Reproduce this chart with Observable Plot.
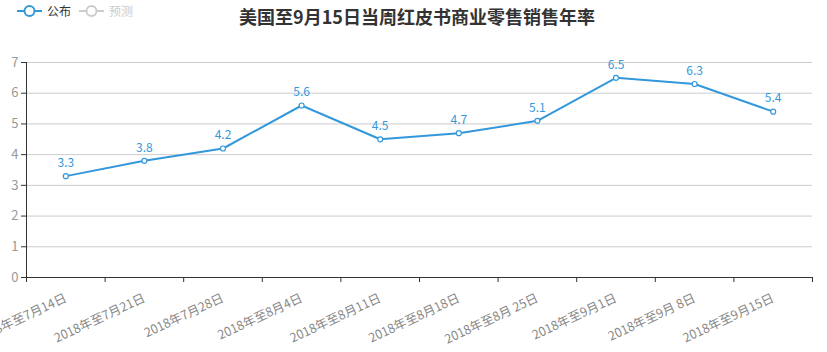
<!DOCTYPE html>
<html>
<head>
<meta charset="utf-8">
<script src="https://cdn.jsdelivr.net/npm/d3@7"></script>
<script src="https://cdn.jsdelivr.net/npm/@observablehq/plot@0.6"></script>
<style>
  body { margin: 0; background: #fff; font-family: "Noto Sans CJK SC", "Noto Sans", sans-serif; }
  #wrap { position: relative; width: 827px; height: 352px; overflow: hidden; }
  #title { position: absolute; top: 3px; left: 0; width: 834px; text-align: center; font-size: 18px; font-weight: bold; color: #333; }
  #legend { position: absolute; top: 2px; left: 17px; font-size: 12px; display: flex; align-items: center; }
  #legend .item { display: flex; align-items: center; margin-right: 8px; }
  #legend svg { margin-right: 5px; }
</style>
</head>
<body>
<div id="wrap">
  <div id="chart"></div>
  <div id="title"></div>
  <div id="legend"></div>
</div>
<script>
const titleText = "美国至9月15日当周红皮书商业零售销售年率";
const categories = ["2018年至7月14日","2018年至7月21日","2018年7月28日","2018年至8月4日","2018年至8月11日","2018年至8月18日","2018年至8月 25日","2018年至9月1日","2018年至9月 8日","2018年至9月15日"];
const values = [3.3, 3.8, 4.2, 5.6, 4.5, 4.7, 5.1, 6.5, 6.3, 5.4];
const yTicks = [0, 1, 2, 3, 4, 5, 6, 7];
const legendNames = ["公布", "预测"];
const legendColors = ["#3398DB", "#cccccc"];
const lineColor = "#3398DB";

const data = categories.map((c, i) => ({ pos: i + 0.5, cat: c, value: values[i] }));
const boundaries = d3.range(categories.length + 1);

document.getElementById("title").textContent = titleText;
const legend = document.getElementById("legend");
legendNames.forEach((n, i) => {
  const item = document.createElement("div");
  item.className = "item";
  item.innerHTML = `<svg width="25" height="14"><line x1="0" x2="25" y1="7" y2="7" stroke="${legendColors[i]}" stroke-width="2"/><circle cx="12.5" cy="7" r="5" fill="#fff" stroke="${legendColors[i]}" stroke-width="2"/></svg><span style="color:${i === 0 ? '#333' : '#ccc'}">${n}</span>`;
  legend.appendChild(item);
});

const chart = Plot.plot({
  width: 827,
  height: 352,
  marginTop: 62,
  marginBottom: 75,
  marginLeft: 26,
  marginRight: 15,
  style: { fontFamily: "'Noto Sans CJK SC', 'Noto Sans', sans-serif", fontSize: "12px", background: "#fff" },
  x: { type: "linear", domain: [0, categories.length] },
  y: { domain: [0, 7] },
  marks: [
    Plot.gridY(yTicks.filter(d => d > 0), { stroke: "#ccc", strokeOpacity: 1 }),
    Plot.axisY(yTicks, { tickSize: 5, tickPadding: 3, stroke: "#333", color: "#999", fontSize: 13, label: null }),
    Plot.ruleX([0], { y1: 0, y2: 7, stroke: "#333" }),
    Plot.ruleY([0], { stroke: "#333" }),
    Plot.axisX(boundaries, { tickSize: 5, tickFormat: () => "", stroke: "#333", label: null }),
    Plot.axisX(data.map(d => d.pos), {
      tickSize: 0,
      tickPadding: 20,
      tickRotate: -25,
      tickFormat: (d) => categories[Math.floor(d)],
      color: "#888",
      fontSize: 12.5,
      label: null
    }),
    Plot.line(data, { x: "pos", y: "value", stroke: lineColor, strokeWidth: 2 }),
    Plot.dot(data, { x: "pos", y: "value", r: 2.5, fill: "#fff", stroke: lineColor, strokeWidth: 1.2 }),
    Plot.text(data, { x: "pos", y: "value", text: d => d.value.toFixed(1), dy: -13, fill: lineColor, fontSize: 12 })
  ]
});
document.getElementById("chart").appendChild(chart);
</script>
</body>
</html>
